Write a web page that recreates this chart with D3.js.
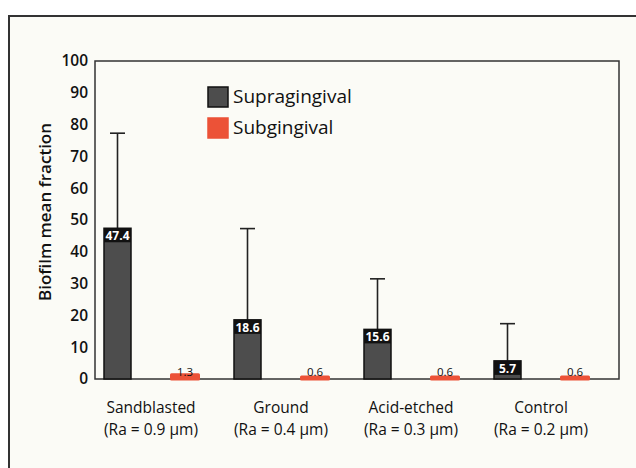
<!DOCTYPE html>
<html>
<head>
<meta charset="utf-8">
<script src="https://cdn.jsdelivr.net/npm/d3@7"></script>
<style>
  body { margin: 0; background: #ffffff; }
  text { font-family: "Open Sans", sans-serif; fill: #111; }
</style>
</head>
<body>
<script>
// data
var categories = ["Sandblasted", "Ground", "Acid-etched", "Control"];
var roughness = ["(Ra = 0.9 μm)", "(Ra = 0.4 μm)", "(Ra = 0.3 μm)", "(Ra = 0.2 μm)"];
var series = ["Supragingival", "Subgingival"];
var supraValues = [47.4, 18.6, 15.6, 5.7];
var supraErrors = [29.9, 28.7, 15.9, 11.7];
var subValues = [1.3, 0.6, 0.6, 0.6];
var yTicks = [0, 10, 20, 30, 40, 50, 60, 70, 80, 90, 100];

var colors = {"Supragingival": "#4d4d4d", "Subgingival": "#ec5237"};

var W = 636, H = 468;
var margin = {top: 61, right: 17, bottom: 89, left: 95};
var width = W - margin.left - margin.right,
    height = H - margin.top - margin.bottom;

var svg = d3.select("body").append("svg")
    .attr("width", W)
    .attr("height", H);

// outer frame (cream panel)
svg.append("rect")
    .attr("x", 9).attr("y", 16)
    .attr("width", W).attr("height", H)
    .attr("fill", "#fbfbf6")
    .attr("stroke", "#333")
    .attr("stroke-width", 2);

var g = svg.append("g")
    .attr("transform", "translate(" + margin.left + "," + margin.top + ")");

// scales
var x0 = d3.scaleBand().domain(categories).range([0, 520]);
var x1 = d3.scalePoint().domain(series).range([22.5, 90]);
var barW = 27;
var y = d3.scaleLinear().domain([0, 100]).range([height, 0]);

// plot frame
g.append("rect")
    .attr("width", width).attr("height", height)
    .attr("fill", "none")
    .attr("stroke", "#333")
    .attr("stroke-width", 1.5);

// y axis
var yAxis = g.append("g")
    .call(d3.axisLeft(y).tickValues(yTicks).tickSize(0).tickPadding(7));
yAxis.select(".domain").remove();
yAxis.selectAll("text")
    .style("font-family", "Open Sans, sans-serif")
    .style("font-size", "15.5px")
    .style("font-weight", "600")
    .style("fill", "#111");

// y label
svg.append("text")
    .attr("transform", "translate(51,212) rotate(-90)")
    .attr("text-anchor", "middle")
    .style("font-size", "17px")
    .style("font-weight", "600")
    .text("Biofilm mean fraction");

// category labels, two lines each
g.selectAll(".cat")
    .data(categories)
    .enter().append("text")
    .attr("class", "cat")
    .attr("text-anchor", "middle")
    .attr("x", function (d) { return x0(d) + 56; })
    .attr("y", height + 34)
    .style("font-size", "15.5px")
    .text(function (d) { return d; });
g.selectAll(".ra")
    .data(roughness)
    .enter().append("text")
    .attr("class", "ra")
    .attr("text-anchor", "middle")
    .attr("x", function (d, i) { return x0(categories[i]) + 56; })
    .attr("y", height + 56)
    .style("font-size", "15.5px")
    .text(function (d) { return d; });

// error bars (upper only)
supraValues.forEach(function (v, i) {
    var cx = x0(categories[i]) + x1("Supragingival");
    var top = y(v + supraErrors[i]);
    g.append("line")
        .attr("x1", cx).attr("x2", cx)
        .attr("y1", y(v)).attr("y2", top)
        .attr("stroke", "#222").attr("stroke-width", 1.6);
    g.append("line")
        .attr("x1", cx - 7.5).attr("x2", cx + 7.5)
        .attr("y1", top).attr("y2", top)
        .attr("stroke", "#222").attr("stroke-width", 1.6);
});

// supragingival bars
g.selectAll(".supra")
    .data(supraValues)
    .enter().append("rect")
    .attr("class", "supra")
    .attr("x", function (d, i) { return x0(categories[i]) + x1("Supragingival") - barW / 2; })
    .attr("y", function (d) { return y(d); })
    .attr("width", barW)
    .attr("height", function (d) { return height - y(d); })
    .attr("fill", colors["Supragingival"])
    .attr("stroke", "#111")
    .attr("stroke-width", 1.5);

// value boxes on supra bars
supraValues.forEach(function (v, i) {
    var cx = x0(categories[i]) + x1("Supragingival");
    g.append("rect")
        .attr("x", cx - barW / 2).attr("y", y(v))
        .attr("width", barW).attr("height", 14)
        .attr("fill", "#111");
    g.append("text")
        .attr("x", cx).attr("y", y(v) + 12)
        .attr("text-anchor", "middle")
        .style("font-size", "12px")
        .style("font-weight", "bold")
        .style("fill", "#fff")
        .text(v);
});

// subgingival bars
g.selectAll(".sub")
    .data(subValues)
    .enter().append("rect")
    .attr("class", "sub")
    .attr("x", function (d, i) { return x0(categories[i]) + x1("Subgingival") - barW / 2; })
    .attr("y", function (d) { return y(d); })
    .attr("width", barW)
    .attr("height", function (d) { return height - y(d); })
    .attr("fill", colors["Subgingival"])
    .attr("stroke", colors["Subgingival"])
    .attr("stroke-width", 3)
    .attr("stroke-linejoin", "round");

g.selectAll(".subLabel")
    .data(subValues)
    .enter().append("text")
    .attr("class", "subLabel")
    .attr("x", function (d, i) { return x0(categories[i]) + x1("Subgingival"); })
    .attr("y", height - 3)
    .attr("text-anchor", "middle")
    .style("font-size", "11.5px")
    .text(function (d) { return d; });

// legend
var legend = svg.append("g").attr("transform", "translate(208,87)");
series.forEach(function (s, i) {
    var row = legend.append("g").attr("transform", "translate(0," + (i * 31) + ")");
    row.append("rect")
        .attr("width", 20).attr("height", 20)
        .attr("fill", colors[s])
        .attr("stroke", i === 0 ? "#111" : colors[s])
        .attr("stroke-width", 1.5);
    row.append("text")
        .attr("x", 25).attr("y", 16)
        .style("font-size", "19px")
        .text(s);
});
</script>
</body>
</html>
